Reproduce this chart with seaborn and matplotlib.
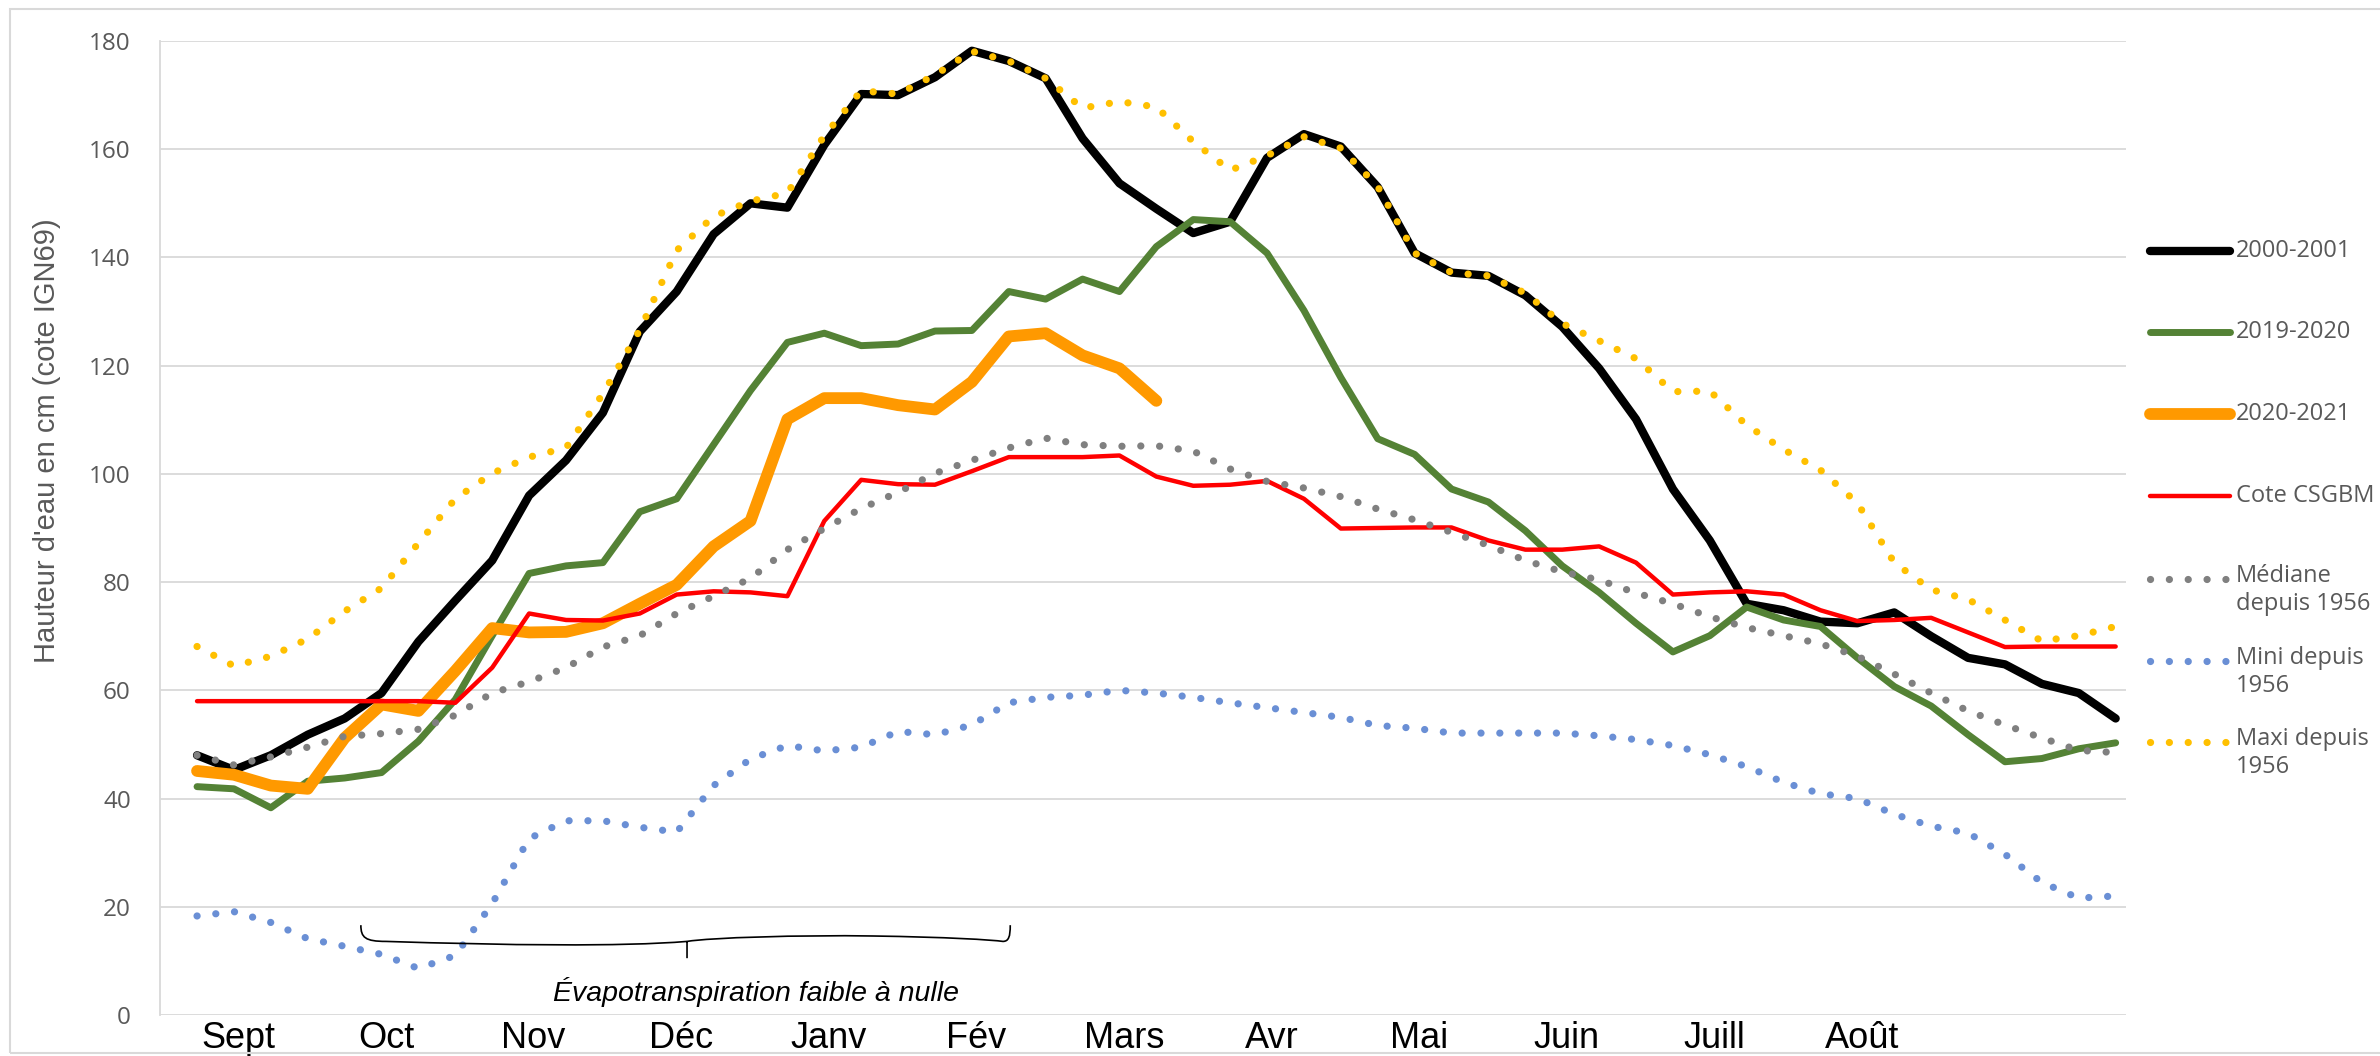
import numpy as np
import pandas as pd
import matplotlib
matplotlib.use("Agg")
import matplotlib.pyplot as plt
import seaborn as sns
from matplotlib.path import Path
from matplotlib.patches import PathPatch, Rectangle
from matplotlib.lines import Line2D
from matplotlib import font_manager as fm

# ---------------- data ----------------
months = ["Sept", "Oct", "Nov", "Déc", "Janv", "Fév", "Mars", "Avr", "Mai", "Juin", "Juill", "Août"]

# weekly-ish steps, expressed on the month axis (Sept centre = 0)
step_index = np.arange(53)
first_pos = -0.28
step_len = 0.25

s_2000_2001 = [48, 45.3, 48, 51.8, 54.8, 59.5, 69, 76.6, 84, 96, 102.5,
               111.3, 126.3, 133.7, 144.3, 150, 149.2, 160.8, 170.2, 170, 173.3, 178.2,
               176.3, 173.1, 162, 153.7, 149, 144.5, 146.6, 158.4, 162.8, 160.5, 153,
               140.8, 137.2, 136.6, 133, 127.2, 119.5, 110.1, 97.2, 87.7, 76,
               74.8, 72.7, 72.4, 74.4, 70, 66, 64.8, 61.2, 59.5, 54.8]
s_2019_2020 = [42.2, 41.8, 38.3, 43.2, 43.8, 44.8, 50.6, 58.3, 70.1, 81.6, 83,
               83.6, 93, 95.4, 105.4, 115.4, 124.3, 126, 123.7, 124, 126.4, 126.5,
               133.7, 132.3, 136, 133.7, 142, 147, 146.6, 140.8, 130.2, 117.8, 106.5,
               103.6, 97.2, 94.8, 89.5, 83, 78.1, 72.4, 67.1, 70.1, 75.4,
               73, 71.8, 66, 60.7, 57.1, 51.8, 46.8, 47.4, 49.2, 50.3]
s_2020_2021 = [45.1, 44.4, 42.4, 41.8, 51.2, 57.4, 56.2, 63.6, 71.5, 70.7, 70.8,
               72.4, 76, 79.5, 86.6, 91.3, 110.1, 114, 114, 112.7, 111.9, 117,
               125.4, 126, 121.9, 119.5, 113.5]
s_cote = [58, 58, 58, 58, 58, 58, 58, 57.7, 64.2, 74.2, 73,
          72.9, 74.2, 77.7, 78.3, 78.1, 77.4, 91.3, 98.9, 98.1, 98, 100.5,
          103.1, 103.1, 103.1, 103.4, 99.5, 97.8, 98, 98.7, 95.4, 89.9, 90,
          90.1, 90.1, 87.7, 86, 86, 86.6, 83.6, 77.7, 78.1, 78.3,
          77.7, 74.8, 72.8, 73, 73.4, 70.7, 68, 68.1, 68.1, 68.1]
s_mediane = [48, 46.2, 47.7, 49.5, 51.5, 52, 52.8, 55.4, 59.5, 61.6, 64.2,
             68, 70.1, 74.2, 77.4, 80.7, 86, 89.9, 93.6, 96.6, 100.1, 102.5,
             104.8, 106.6, 105.4, 105.1, 105.2, 104.2, 100.9, 98.6, 97.4, 95.8, 93.5,
             91.5, 89.2, 86.8, 84, 81.9, 80.4, 78, 76, 73.6, 71.6,
             70.1, 68.6, 66.3, 63, 59.5, 56.2, 53.6, 51.2, 48.9, 48.5]
s_mini = [18.3, 19.1, 17.1, 14.1, 12.7, 11.2, 8.6, 11, 20.6, 32.6, 35.9,
          35.9, 34.7, 33.8, 42.4, 47.3, 49.8, 48.8, 49.5, 52.4, 51.8, 53.6,
          57.7, 58.7, 59.1, 60, 59.5, 58.7, 57.7, 56.8, 55.9, 55, 53.5,
          53, 52.1, 52.1, 52.1, 52.1, 51.6, 50.9, 49.8, 48.1, 45.9,
          43, 40.9, 40, 37.1, 34.9, 33.6, 29.7, 24.5, 21.6, 22]
s_maxi = [68.1, 64.5, 66.3, 69.5, 74.6, 78.9, 87.2, 95.4, 100.1, 103.1, 104.8,
          114.8, 126.6, 141.3, 147.6, 150.4, 151.9, 162.5, 170.8, 170.2, 173.7, 178.1,
          176.3, 173.1, 167.6, 168.8, 167.8, 161.4, 156.1, 158.8, 162.3, 160.2, 153.1,
          140.8, 137.2, 136.6, 133.4, 127.8, 124.6, 121.3, 115.2, 115.3, 109,
          104.5, 100.7, 94.6, 83.6, 78.6, 76.8, 73, 69.1, 70.1, 71.8]

labels = ["2000-2001", "2019-2020", "2020-2021", "Cote CSGBM",
          "Médiane\ndepuis 1956", "Mini depuis\n1956", "Maxi depuis\n1956"]
y_ticks = [0, 20, 40, 60, 80, 100, 120, 140, 160, 180]

# ---------------- style ----------------
sns.set_style("white")
names = {f.name for f in fm.fontManager.ttflist}
narrow = "Liberation Sans Narrow" if "Liberation Sans Narrow" in names else "Liberation Sans"
plt.rcParams["font.family"] = ["Open Sans", "DejaVu Sans"]

W, H = 2380, 1056
fig = plt.figure(figsize=(W / 100, H / 100), dpi=100)
ax = fig.add_axes([160 / W, 1 - 1015 / H, (2126 - 160) / W, (1015 - 41) / H])

DOT = (0, (0.01, 2.6))
styles = [
    dict(color="#000000", lw=6.0, ls="-"),
    dict(color="#548235", lw=5.0, ls="-"),
    dict(color="#FF9900", lw=8.5, ls="-"),
    dict(color="#FF0000", lw=3.2, ls="-"),
    dict(color="#808080", lw=5.2, ls=DOT),
    dict(color="#6A8FD5", lw=5.2, ls=DOT),
    dict(color="#FFC000", lw=5.2, ls=DOT),
]
all_series = [s_2000_2001, s_2019_2020, s_2020_2021, s_cote, s_mediane, s_mini, s_maxi]

positions = first_pos + step_len * step_index
for i, (vals, st) in enumerate(zip(all_series, styles)):
    df = pd.DataFrame({"pos": positions[:len(vals)], "val": vals})
    sns.lineplot(data=df, x="pos", y="val", ax=ax, color=st["color"], linewidth=st["lw"],
                 linestyle=st["ls"], dash_capstyle="round", solid_capstyle="round",
                 solid_joinstyle="round", sort=False, errorbar=None, legend=False,
                 zorder=3 + i)

ax.set_xlim(-0.531, 12.79)
ax.set_ylim(0, 180)
ax.set_xlabel("")
ax.set_ylabel("")
ax.set_yticks(y_ticks)
ax.set_yticklabels([str(v) for v in y_ticks], fontsize=17.5, color="#595959")
ax.set_xticks(range(len(months)))
ax.set_xticklabels(months, fontsize=26, color="black", family=[narrow, "DejaVu Sans"])
ax.tick_params(axis="x", length=0, pad=4.5)
ax.tick_params(axis="y", length=0, pad=21)
ax.yaxis.grid(True, color="#D9D9D9", lw=1.3)
ax.xaxis.grid(False)
ax.set_axisbelow(True)
for side in ["top", "right", "bottom"]:
    ax.spines[side].set_visible(False)
ax.spines["left"].set_color("#D9D9D9")
ax.spines["left"].set_linewidth(1.3)

# y label
fig.text(47 / W, 1 - 441 / H, "Hauteur d'eau en cm (cote IGN69)", rotation=90,
         ha="center", va="center", fontsize=21, color="#595959", family=[narrow, "DejaVu Sans"])

# brace annotation
verts = [
    (0.83, 16.6), (0.83, 14.3), (0.86, 13.6), (1.0, 13.6),
    (1.8, 12.9), (2.6, 12.6), (3.04, 13.6),
    (3.04, 13.6), (3.04, 10.5),
    (3.04, 13.6), (3.2, 14.3), (3.8, 14.8), (4.3, 14.6),
    (4.8, 14.4), (5.1, 13.9), (5.18, 13.6),
    (5.22, 13.6), (5.23, 14.5), (5.23, 16.6),
]
codes = [Path.MOVETO, Path.CURVE4, Path.CURVE4, Path.CURVE4,
         Path.CURVE4, Path.CURVE4, Path.CURVE4,
         Path.MOVETO, Path.LINETO,
         Path.MOVETO, Path.CURVE4, Path.CURVE4, Path.CURVE4,
         Path.CURVE4, Path.CURVE4, Path.CURVE4,
         Path.CURVE4, Path.CURVE4, Path.CURVE4]
ax.add_patch(PathPatch(Path(verts, codes), fill=False, ec="black", lw=1.2, zorder=10))
ax.text(3.51, 4.3, "Évapotranspiration faible à nulle", ha="center", va="center",
        fontsize=20.5, style="italic", color="black", family=[narrow, "DejaVu Sans"], zorder=10)

# legend (drawn manually to follow the reference layout)
handle_y = [251, 332, 414, 496, 579, 661, 742]
for lab, st, hy in zip(labels, styles, handle_y):
    yf = 1 - hy / H
    fig.add_artist(Line2D([2150 / W, 2230 / W], [yf, yf], transform=fig.transFigure,
                          color=st["color"], lw=st["lw"], ls=st["ls"],
                          dash_capstyle="round", solid_capstyle="round"))
    if "\n" in lab:
        fig.text(2236 / W, 1 - (hy - 15) / H, lab, ha="left", va="top", fontsize=17,
                 color="#595959", linespacing=1.2)
    else:
        fig.text(2236 / W, yf, lab, ha="left", va="center", fontsize=17, color="#595959")

# outer chart frame
fig.add_artist(Rectangle((10 / W, 1 - 1053 / H), 1.2, (1053 - 9) / H, transform=fig.transFigure,
                         fill=False, ec="#D9D9D9", lw=1.5))

fig.savefig("out.png", dpi=100)
